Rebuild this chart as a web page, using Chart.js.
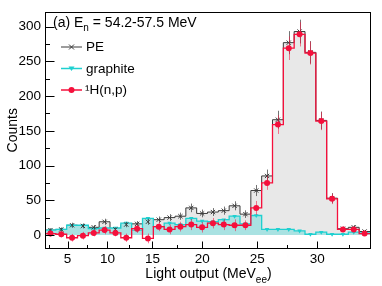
<!DOCTYPE html>
<html><head><meta charset="utf-8">
<script src="https://cdn.jsdelivr.net/npm/chart.js@4/dist/chart.umd.min.js"></script>
<style>html,body{margin:0;padding:0;background:#fff}#wrap{width:382px;height:286px}</style>
</head><body><div id="wrap"><canvas id="c" width="382" height="286"></canvas></div>
<script>
// ---- data (30 equal-width bins, index 0..29) ----
const binIndex = Array.from({length: 30}, (_, i) => i);
const peCounts = [7, 8, 14, 13, 11, 19, 8, 15, 16, 19, 22, 25, 27, 39, 31, 33, 35, 42, 30, 64, 85, 166, 277, 293, 263, 165, 53, 9, 11, 5];
const peErrors = [2.6, 2.8, 3.7, 3.6, 3.3, 4.4, 2.8, 3.9, 4, 4.4, 4.7, 5, 5.2, 6.2, 5.6, 5.7, 5.9, 6.5, 5.5, 8, 9.2, 12.9, 16.6, 17.1, 16.2, 12.8, 7.3, 3, 3.3, 2.2];
const graphiteCounts = [7, 8, 14, 14, 9, 10, 10, 17, 7, 24, 12, 17, 15, 24, 20, 19, 22, 27, 16, 28, 8, 8, 8, 6, 1, 4, 1, 1, 4, 3];
const hnpCounts = [2, 1, -4, -1, 3, 7, 3, -4, 9, -5, 12, 8, 12, 15, 11, 17, 15, 14, 14, 39, 75, 159, 269, 289, 262, 164, 52, 8, 8, 2];
const hnpErrors = [4.5, 4.5, 5.5, 5.5, 5, 6, 5, 6, 6, 7, 6.5, 7, 7, 8, 7.5, 7.5, 8, 8.5, 7, 10, 10, 13.5, 17, 17.5, 16.5, 13, 7.5, 4, 4, 3];
const xTickLabels = [5, 10, 15, 20, 25, 30];            // light output, MeVee
const xMinorLabels = [2.5, 7.5, 12.5, 17.5, 22.5, 27.5, 32.5];
const yTickValues = [0, 50, 100, 150, 200, 250, 300];
const yMinorValues = [25, 75, 125, 175, 225, 275];
const seriesNames = ['PE', 'graphite', '\u00B9H(n,p)'];

// light output (MeVee) -> bin-index axis coordinate (axis is non-linear in MeVee)
function lightToAxis(L) { return (0.1 * L * L + 6.49 * L - 12.45) / 10.8333; }

const FONT = "'Liberation Sans', Arial, Helvetica, sans-serif";
const C_PE = '#3a3a3a', C_PE_FILL = '#e8e8e8';
const C_GR = '#1fd0d0', C_GR_FILL = '#a9e2e2';
const C_H = '#f5103c', C_H_ERR = 'rgba(245,16,60,0.55)';

const hist = v => binIndex.map(i => ({x: i, y: v[i]})).concat([{x: binIndex.length, y: v[v.length - 1]}]);
const pts = v => binIndex.map(i => ({x: i + 0.5, y: v[i]}));

const rootPlugin = {
  id: 'rootStyle',
  beforeDatasetDraw(chart, args) {
    const ds = chart.data.datasets[args.index];
    if (!ds.errors) return;
    const {ctx, chartArea: a} = chart, x = chart.scales.x, y = chart.scales.y;
    ctx.save();
    ctx.beginPath(); ctx.rect(a.left, a.top, a.right - a.left, a.bottom - a.top); ctx.clip();
    ctx.strokeStyle = ds.errorColor; ctx.lineWidth = 1;
    ds.data.forEach((p, i) => {
      const px = Math.round(x.getPixelForValue(p.x)) + 0.5, e = ds.errors[i];
      ctx.beginPath();
      ctx.moveTo(px, y.getPixelForValue(p.y - e));
      ctx.lineTo(px, y.getPixelForValue(p.y + e));
      ctx.stroke();
    });
    ctx.restore();
  },
  afterDraw(chart) {
    const {ctx, chartArea: a} = chart, x = chart.scales.x, y = chart.scales.y;
    ctx.save();
    ctx.strokeStyle = '#000'; ctx.lineWidth = 1;
    const L = (x0, y0, x1, y1) => { ctx.beginPath(); ctx.moveTo(x0, y0); ctx.lineTo(x1, y1); ctx.stroke(); };
    // inward ticks
    yTickValues.forEach(v => { const p = Math.round(y.getPixelForValue(v)) + 0.5; L(a.left, p, a.left + 9.5, p); });
    yMinorValues.forEach(v => { const p = Math.round(y.getPixelForValue(v)) + 0.5; L(a.left, p, a.left + 5, p); });
    xTickLabels.forEach(v => { const p = Math.round(x.getPixelForValue(lightToAxis(v))) + 0.5; L(p, a.bottom, p, a.bottom - 7); });
    xMinorLabels.forEach(v => { const p = Math.round(x.getPixelForValue(lightToAxis(v))) + 0.5; L(p, a.bottom, p, a.bottom - 3.5); });
    // frame
    ctx.strokeRect(Math.round(a.left) + 0.5, Math.round(a.top) + 0.5, Math.round(a.right - a.left), Math.round(a.bottom - a.top));
    // title with subscript
    ctx.fillStyle = '#000'; ctx.textBaseline = 'alphabetic'; ctx.textAlign = 'left';
    let tx = a.left + 8, ty = 27;
    ctx.font = '14px ' + FONT; ctx.fillText('(a) E', tx, ty); tx += ctx.measureText('(a) E').width;
    ctx.font = '10px ' + FONT; ctx.fillText('n', tx, ty + 4); tx += ctx.measureText('n').width;
    ctx.font = '14px ' + FONT; ctx.fillText(' = 54.2-57.5 MeV', tx, ty);
    // legend
    const rows = [46.5, 68, 89.5];
    const lx0 = a.left + 16, lx1 = a.left + 37, lm = (lx0 + lx1) / 2;
    ctx.font = '13.5px ' + FONT; ctx.textBaseline = 'middle';
    // PE
    ctx.strokeStyle = C_PE; L(lx0, rows[0] + 0.5, lx1, rows[0] + 0.5);
    L(lm - 2.5, rows[0] - 2, lm + 2.5, rows[0] + 3); L(lm - 2.5, rows[0] + 3, lm + 2.5, rows[0] - 2);
    ctx.fillStyle = '#000'; ctx.fillText(seriesNames[0], a.left + 41, rows[0] + 1);
    // graphite
    ctx.strokeStyle = C_GR; ctx.lineWidth = 1.5; L(lx0, rows[1] + 0.5, lx1, rows[1] + 0.5); ctx.lineWidth = 1;
    ctx.fillStyle = C_GR; ctx.beginPath(); ctx.moveTo(lm - 3, rows[1] - 1.5); ctx.lineTo(lm + 3, rows[1] - 1.5); ctx.lineTo(lm, rows[1] + 3); ctx.closePath(); ctx.fill();
    ctx.fillStyle = '#000'; ctx.fillText(seriesNames[1], a.left + 41, rows[1] + 1);
    // 1H(n,p)
    ctx.strokeStyle = C_H; ctx.lineWidth = 1.5; L(lx0, rows[2] + 0.5, lx1, rows[2] + 0.5); ctx.lineWidth = 1;
    ctx.fillStyle = C_H; ctx.beginPath(); ctx.arc(lm, rows[2] + 0.5, 3, 0, Math.PI * 2); ctx.fill();
    ctx.fillStyle = '#000'; ctx.fillText(seriesNames[2], a.left + 40, rows[2] + 1);
    // x-axis title with subscript
    ctx.textBaseline = 'alphabetic';
    ctx.font = '14px ' + FONT;
    const t1 = 'Light output (MeV', t3 = ')';
    const w1 = ctx.measureText(t1).width, w3 = ctx.measureText(t3).width;
    ctx.font = '10px ' + FONT; const w2 = ctx.measureText('ee').width;
    let xx = (a.left + a.right) / 2 - (w1 + w2 + w3) / 2 + 1, yy = 278;
    ctx.font = '14px ' + FONT; ctx.fillText(t1, xx, yy); xx += w1;
    ctx.font = '10px ' + FONT; ctx.fillText('ee', xx, yy + 5); xx += w2;
    ctx.font = '14px ' + FONT; ctx.fillText(t3, xx, yy);
    ctx.restore();
  }
};

new Chart(document.getElementById('c'), {
  type: 'line',
  data: {
    datasets: [
      { label: 'hnp-pts', data: pts(hnpCounts), errors: hnpErrors, errorColor: C_H_ERR, showLine: false,
        pointStyle: 'circle', pointRadius: 3, pointBackgroundColor: C_H, pointBorderColor: C_H, pointBorderWidth: 0, order: 1 },
      { label: 'pe-pts', data: pts(peCounts), errors: peErrors, errorColor: 'rgba(70,70,70,0.75)', showLine: false,
        pointStyle: 'crossRot', pointRadius: 3, pointBorderColor: C_PE, pointBorderWidth: 1, order: 2 },
      { label: 'gr-pts', data: pts(graphiteCounts), showLine: false,
        pointStyle: 'triangle', rotation: 180, pointRadius: 2.6, pointBackgroundColor: C_GR, pointBorderColor: C_GR, pointBorderWidth: 0, order: 3 },
      { label: 'hnp-hist', data: hist(hnpCounts), stepped: 'before', borderColor: C_H, borderWidth: 1.3, pointRadius: 0, fill: false, order: 4 },
      { label: 'gr-hist', data: hist(graphiteCounts), stepped: 'before', borderColor: C_GR, borderWidth: 1.3, pointRadius: 0,
        fill: 'origin', backgroundColor: C_GR_FILL, order: 5 },
      { label: 'pe-hist', data: hist(peCounts), stepped: 'before', borderColor: C_PE, borderWidth: 1, pointRadius: 0,
        fill: 'origin', backgroundColor: C_PE_FILL, order: 6 }
    ]
  },
  options: {
    responsive: false, animation: false,
    layout: { padding: { top: 8, right: 12, left: 0, bottom: 0 } },
    plugins: { legend: { display: false }, tooltip: { enabled: false } },
    elements: { line: { tension: 0 } },
    scales: {
      x: {
        type: 'linear', min: 0, max: binIndex.length,
        afterBuildTicks: s => { s.ticks = xTickLabels.map(v => ({ value: lightToAxis(v) })); },
        afterFit: s => { s.height = 37.5; },
        grid: { display: false, drawTicks: false }, border: { display: false },
        ticks: { autoSkip: false, maxRotation: 0, padding: 3, color: '#000', font: { family: FONT, size: 13.5 },
          callback: (v, i) => String(xTickLabels[i]) }
      },
      y: {
        type: 'linear', min: -19.5, max: 321,
        afterBuildTicks: s => { s.ticks = yTickValues.map(v => ({ value: v })); },
        afterFit: s => { s.width = 45; },
        grid: { display: false, drawTicks: false }, border: { display: false },
        ticks: { autoSkip: false, padding: 4, color: '#000', font: { family: FONT, size: 13.5 },
          callback: v => String(v) },
        title: { display: true, text: 'Counts', color: '#000', font: { family: FONT, size: 14 }, padding: { top: 5 } }
      }
    }
  },
  plugins: [rootPlugin]
});
</script></body></html>
